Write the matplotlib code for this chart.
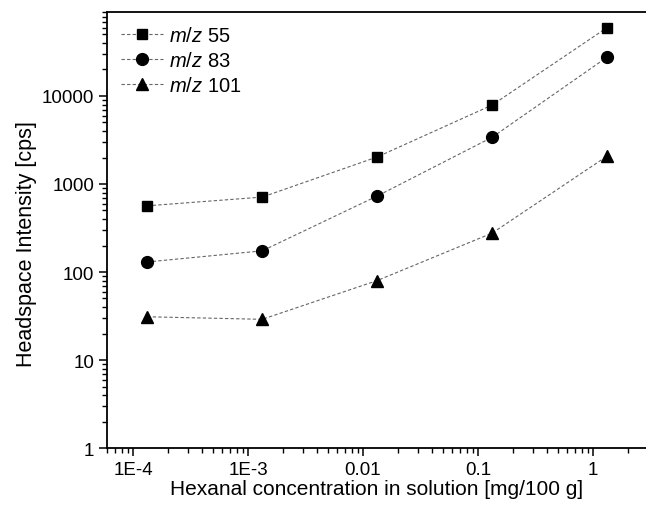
import numpy as np
import matplotlib
matplotlib.use('Agg')
import matplotlib.pyplot as plt
from matplotlib.ticker import LogLocator, FixedLocator, FixedFormatter, NullFormatter

plt.rcParams['font.family'] = ['Liberation Sans', 'DejaVu Sans']
plt.rcParams['mathtext.fontset'] = 'custom'
plt.rcParams['mathtext.rm'] = 'Liberation Sans'
plt.rcParams['mathtext.it'] = 'Liberation Sans:italic'

# hexanal concentration [mg/100 g]
conc = [1.33e-4, 1.33e-3, 0.0133, 0.133, 1.33]

# headspace intensity [cps]
mz55 = [565, 710, 2030, 7900, 60000]
mz83 = [130, 174, 730, 3400, 27700]
mz101 = [31, 29, 80, 277, 2080]

series = [
    (mz55, 's', 7.2, r'$\mathit{m/z}$ 55'),
    (mz83, 'o', 8.5, r'$\mathit{m/z}$ 83'),
    (mz101, '^', 9.0, r'$\mathit{m/z}$ 101'),
]

xticks = [1e-4, 1e-3, 1e-2, 1e-1, 1]
xticklabels = ['1E-4', '1E-3', '0.01', '0.1', '1']
yticks = [1, 10, 100, 1000, 10000]
yticklabels = ['1', '10', '100', '1000', '10000']

fig = plt.figure(figsize=(6.46, 5.06), dpi=100)
ax = fig.add_axes([0.1656, 0.1126, 0.8344, 0.8617])

for vals, mk, ms, lab in series:
    ax.plot(conc, vals, linestyle=(0, (3, 2)), color='#666666', linewidth=0.8,
            marker=mk, markersize=ms, markerfacecolor='black',
            markeredgecolor='black', label=lab)

ax.set_xscale('log')
ax.set_yscale('log')
ax.set_xlim(5.94e-5, 2.89)
ax.set_ylim(1, 90000)

ax.xaxis.set_major_locator(FixedLocator(xticks))
ax.xaxis.set_major_formatter(FixedFormatter(xticklabels))
ax.xaxis.set_minor_locator(LogLocator(base=10, subs=np.arange(2, 10), numticks=20))
ax.xaxis.set_minor_formatter(NullFormatter())
ax.yaxis.set_major_locator(FixedLocator(yticks))
ax.yaxis.set_major_formatter(FixedFormatter(yticklabels))
ax.yaxis.set_minor_locator(LogLocator(base=10, subs=np.arange(2, 10), numticks=20))
ax.yaxis.set_minor_formatter(NullFormatter())

ax.tick_params(which='major', direction='out', length=6, width=1.1, labelsize=13.5, pad=3)
ax.tick_params(which='minor', direction='out', length=3.5, width=1.0)
ax.tick_params(top=False, right=False, which='both')

for side in ['left', 'bottom', 'top']:
    ax.spines[side].set_linewidth(1.3)
ax.spines['right'].set_visible(False)

ax.set_xlabel('Hexanal concentration in solution [mg/100 g]', fontsize=15, labelpad=1)
ax.set_ylabel('Headspace Intensity [cps]', fontsize=15.5)
ax.yaxis.set_label_coords(-0.13, 0.47)

ax.legend(loc='upper left', frameon=False, fontsize=14.5, handlelength=2.1,
          labelspacing=0.3, borderaxespad=0.3, handletextpad=0.3,
          bbox_to_anchor=(0.0, 1.0))

fig.savefig('out.png', dpi=100)
